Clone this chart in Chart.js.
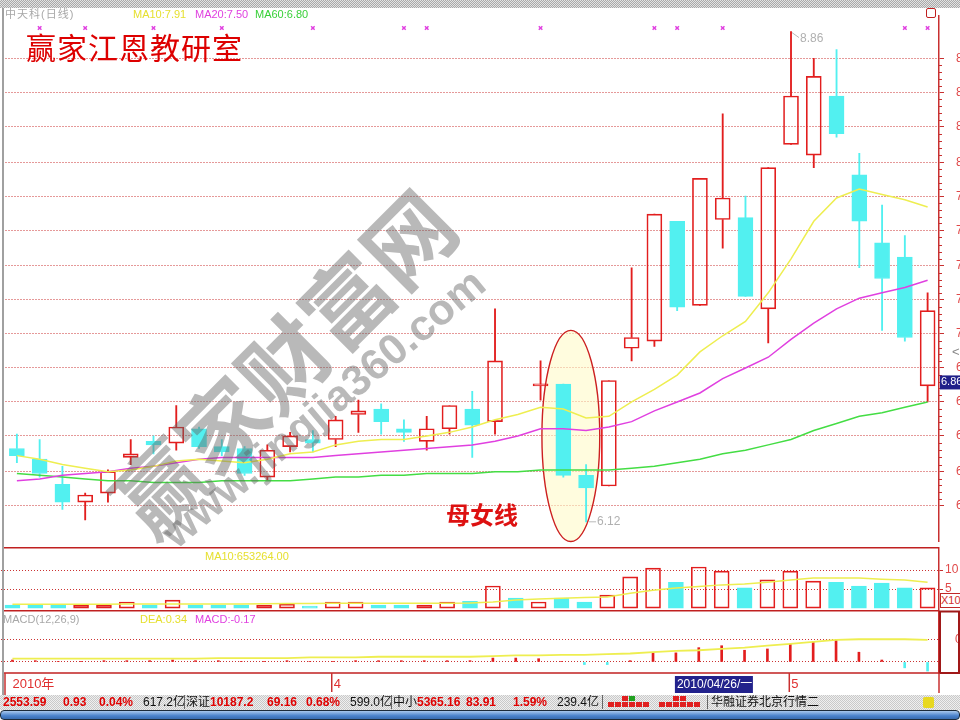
<!DOCTYPE html>
<html lang="zh-CN">
<head>
<meta charset="utf-8">
<title>中天科 日线</title>
<script src="https://cdn.jsdelivr.net/npm/chart.js@4.4.1/dist/chart.umd.min.js"></script>
<style>
  html, body { margin: 0; padding: 0; background: #fff; }
  body { position: relative; width: 960px; height: 720px; overflow: hidden;
         font-family: Arial, "Liberation Sans", "Noto Sans CJK SC", sans-serif; }
  canvas { position: absolute; left: 0; }
  .t { position: absolute; white-space: nowrap; font-size: 11px; line-height: 12px; }
  #topbar { position: absolute; left: 0; top: 0; width: 960px; height: 8px;
            background: repeating-conic-gradient(#a9a9a9 0 25%, #e2e2e2 0 50%) 0 0/2px 2px; }
  #leftline { position: absolute; left: 2px; top: 8px; width: 2px; height: 687px; background: #a0a0a0; }
  #title { position: absolute; left: 26px; top: 24px; font-size: 30px; color: #dd0000;
           font-family: "Noto Sans CJK SC", sans-serif; letter-spacing: 1px; }
  #mnx { position: absolute; left: 446px; top: 496px; font-size: 24px; color: #dd1111; font-weight: bold;
         font-family: "Noto Sans CJK SC", sans-serif; }
  .wm { position: absolute; white-space: nowrap; color: rgba(100,100,100,0.45); font-weight: bold;
        transform: translate(-50%, -50%); pointer-events: none; }
  #wm1 { left: 281px; top: 360px; font-size: 88px; font-family: "Noto Sans CJK SC", sans-serif;
         transform: translate(-50%, -50%) rotate(-45deg); }
  #wm2 { left: 323px; top: 408px; font-size: 43px; font-family: "Liberation Sans", Arial, sans-serif;
         transform: translate(-50%, -50%) rotate(-40deg); }
  #status { position: absolute; left: 0; top: 695px; width: 960px; height: 15px;
            background: repeating-conic-gradient(#c9c9c9 0 25%, #efefef 0 50%) 0 0/2px 2px; }
  #status span { position: absolute; top: 1px; font-size: 12px; line-height: 13px; white-space: nowrap; }
  .r { color: #e00000; font-weight: bold; }
  .k { color: #111; }
  .sep { width: 1px; height: 14px; background: #666; top: 0 !important; }
  .sq { width: 6px; height: 5px; background: #e02020; top: 7px !important; }
  #scroll { position: absolute; left: 0; top: 710px; width: 958px; height: 8px; border: 1px solid #1c2a3a;
            border-radius: 4px; background: linear-gradient(#a9c8ee, #4a82cc 60%, #3a6cb0); }
  #x10 { position: absolute; left: 940px; top: 593px; width: 19px; height: 13px; border: 1px solid #c02828;
         color: #d03030; font-size: 11px; line-height: 13px; overflow: hidden; white-space: nowrap; background: #fff; }
  #icon { position: absolute; left: 926px; top: 8px; width: 8px; height: 8px; border: 1.5px solid #c02020; border-radius: 2px; }
</style>
</head>
<body>
<div id="topbar"></div>
<canvas id="cMain" width="960" height="537" style="top:10px"></canvas>
<canvas id="cVol" width="960" height="63" style="top:547px"></canvas>
<canvas id="cMacd" width="960" height="85" style="top:610px"></canvas>
<div id="leftline"></div>
<div id="icon"></div>

<div class="t" style="left:5px;top:8px;color:#a8a8a8;letter-spacing:1px">中天科(日线)</div>
<div class="t" style="left:133px;top:8px;color:#e6e030">MA10:7.91</div>
<div class="t" style="left:195px;top:8px;color:#e040e0">MA20:7.50</div>
<div class="t" style="left:255px;top:8px;color:#38d038">MA60:6.80</div>
<div class="t" style="left:205px;top:550px;color:#e6e030">MA10:653264.00</div>
<div class="t" style="left:3px;top:613px;color:#a8a8a8">MACD(12,26,9)</div>
<div class="t" style="left:140px;top:613px;color:#e6e030">DEA:0.34</div>
<div class="t" style="left:195px;top:613px;color:#e040e0">MACD:-0.17</div>
<div id="x10">X10万</div>
<div class="t" style="left:952px;top:346px;color:#888;font-size:13px">&lt;</div>

<div id="title">赢家江恩教研室</div>
<div id="mnx">母女线</div>
<div class="wm" id="wm1">赢家财富网</div>
<div class="wm" id="wm2">www.jingjia360.com</div>

<div id="status">
  <span class="r" style="left:3px">2553.59</span>
  <span class="r" style="left:63px">0.93</span>
  <span class="r" style="left:99px">0.04%</span>
  <span class="k" style="left:143px">617.2亿</span>
  <span class="sep" style="left:184px"></span>
  <span class="k" style="left:186px">深证</span>
  <span class="r" style="left:210px">10187.2</span>
  <span class="r" style="left:267px">69.16</span>
  <span class="r" style="left:306px">0.68%</span>
  <span class="k" style="left:350px">599.0亿</span>
  <span class="sep" style="left:391px"></span>
  <span class="k" style="left:393px">中小</span>
  <span class="r" style="left:417px">5365.16</span>
  <span class="r" style="left:466px">83.91</span>
  <span class="r" style="left:513px">1.59%</span>
  <span class="k" style="left:557px">239.4亿</span>
  <span class="sep" style="left:602px"></span>
  <span class="sq" style="left:608px"></span><span class="sq" style="left:615px"></span><span class="sq" style="left:622px"></span>
  <span class="sq" style="left:629px"></span><span class="sq" style="left:636px"></span><span class="sq" style="left:643px"></span>
  <span class="sq" style="left:622px;top:1px !important"></span><span class="sq" style="left:629px;top:1px !important;background:#20a020"></span>
  <span class="sq" style="left:659px"></span><span class="sq" style="left:666px"></span><span class="sq" style="left:673px"></span>
  <span class="sq" style="left:680px"></span><span class="sq" style="left:687px"></span><span class="sq" style="left:694px"></span>
  <span class="sq" style="left:673px;top:1px !important"></span><span class="sq" style="left:680px;top:1px !important"></span>
  <span class="sep" style="left:707px"></span>
  <span class="k" style="left:711px">华融证券北京行情二</span>
  <span style="left:923px;top:2px;width:11px;height:11px;background:#e8d820;border-radius:2px"></span>
</div>
<div id="scroll"></div>

<script>
const dates = ['03-12','03-15','03-16','03-17','03-18','03-19','03-22','03-23','03-24','03-25','03-26','03-29','03-30','03-31',
  '04-01','04-06','04-07','04-08','04-09','04-12','04-13','04-14','04-15','04-16','04-19','04-20','04-21','04-22','04-23','04-26',
  '04-27','04-28','04-29','04-30','05-04','05-05','05-06','05-07','05-10','05-11','05-12'];

// 04-15 has volume but no readable candle in the picture -> null
const open  = [6.53,6.47,6.33,6.23,6.28,6.48,6.57,6.56,6.64,6.54,6.53,6.37,6.54,6.58,6.58,6.72,6.75,6.64,6.57,6.64,6.75,6.68,null,6.88,6.89,6.38,6.32,7.09,7.13,7.80,7.33,7.81,7.82,7.31,8.23,8.17,8.50,8.06,7.68,7.60,6.88];
const high  = [6.61,6.58,6.43,6.28,6.41,6.58,6.60,6.77,6.65,6.58,6.54,6.55,6.62,6.63,6.71,6.80,6.78,6.69,6.71,6.77,6.85,7.31,null,7.02,6.89,6.44,6.91,7.54,7.84,7.80,8.04,8.40,7.94,8.10,8.86,8.71,8.76,8.18,7.89,7.72,7.40];
const low   = [6.45,6.37,6.19,6.13,6.23,6.44,6.50,6.52,6.53,6.49,6.38,6.35,6.51,6.51,6.54,6.62,6.61,6.57,6.52,6.61,6.48,6.61,null,6.80,6.37,6.12,6.32,7.02,7.10,7.30,7.33,7.65,7.38,7.12,8.23,8.10,8.27,7.54,7.19,7.13,6.79];
const close = [6.49,6.39,6.23,6.27,6.40,6.50,6.55,6.65,6.54,6.51,6.39,6.52,6.60,6.56,6.69,6.74,6.68,6.62,6.64,6.77,6.66,7.02,null,6.89,6.38,6.31,6.91,7.15,7.84,7.32,8.04,7.93,7.38,8.10,8.50,8.61,8.29,7.80,7.48,7.15,7.30];

const ma10 = [6.49,6.47,6.44,6.42,6.40,6.41,6.43,6.46,6.47,6.46,6.45,6.47,6.50,6.51,6.55,6.57,6.58,6.58,6.60,6.62,6.65,6.69,6.72,6.76,6.75,6.70,6.71,6.79,6.86,6.94,7.07,7.16,7.24,7.40,7.59,7.80,7.93,7.98,7.95,7.92,7.88];
const ma20 = [6.35,6.36,6.38,6.39,6.40,6.42,6.43,6.45,6.47,6.48,6.48,6.48,6.48,6.48,6.49,6.50,6.51,6.52,6.53,6.54,6.55,6.57,6.60,6.64,6.64,6.63,6.65,6.68,6.74,6.79,6.84,6.92,6.98,7.04,7.14,7.23,7.31,7.37,7.40,7.43,7.47];
const ma60 = [6.39,6.38,6.37,6.36,6.35,6.35,6.34,6.34,6.34,6.35,6.35,6.35,6.35,6.36,6.37,6.37,6.38,6.38,6.39,6.39,6.39,6.40,6.40,6.41,6.41,6.41,6.41,6.42,6.43,6.45,6.47,6.50,6.52,6.55,6.58,6.63,6.67,6.71,6.73,6.76,6.79];

// volume in units of 10万; volDown marks the cyan (falling) bars
const volume = [0.8,0.8,0.8,0.8,0.8,1.6,0.8,2.1,0.8,0.8,0.8,0.8,1.05,0.5,1.6,1.6,0.8,0.8,0.8,1.6,1.8,5.8,2.6,1.6,2.6,1.6,3.4,8.2,10.5,6.8,10.8,9.7,5.3,7.4,9.7,7.1,6.8,5.8,6.6,5.3,5.3];
const volDown = [1,1,1,0,0,0,1,0,1,1,1,0,0,1,0,0,1,1,0,0,1,0,1,0,1,1,0,0,0,1,0,0,1,0,0,0,1,1,1,1,0];
const volMa10 = [1.0,1.0,1.0,1.0,1.0,1.05,1.05,1.1,1.1,1.1,1.1,1.15,1.2,1.2,1.25,1.25,1.3,1.3,1.3,1.3,1.35,1.6,2.1,2.4,2.6,2.8,2.9,3.9,4.7,5.3,5.7,6.1,6.3,6.8,7.4,7.9,7.9,7.9,7.6,7.4,6.8];

const macd = [0.03,0.02,0.01,0.01,0.02,0.02,0.02,0.03,0.02,0.02,0.01,0.01,0.02,0.01,0.01,0.02,0.02,0.02,0.02,0.02,0.02,0.06,0.06,0.05,0.01,-0.04,-0.04,0.02,0.14,0.14,0.22,0.25,0.18,0.20,0.27,0.31,0.33,0.15,0.03,-0.09,-0.14];
const dea  = [0.05,0.05,0.05,0.05,0.05,0.05,0.05,0.05,0.05,0.06,0.06,0.06,0.06,0.07,0.07,0.07,0.08,0.08,0.08,0.08,0.08,0.09,0.10,0.10,0.11,0.11,0.12,0.13,0.15,0.17,0.18,0.20,0.22,0.25,0.28,0.31,0.34,0.35,0.35,0.35,0.34];

const priceTicks = [8.71,8.52,8.33,8.13,7.94,7.75,7.55,7.36,7.17,6.98,6.79,6.60,6.40,6.21];
const volTicks = [5, 10];
const macdTicks = [0, 0.35];
const markIdx = [1,3,6,9,13,17,18,23,28,29,31,39,40];
const markLevel = 8.88;
const monthIdx = [0, 14, 34];
const monthText = ['2010年', '4', '5'];
const cursorIdx = 29, cursorDate = '2010/04/26/一', cursorPrice = 6.86;
// 母女线 highlight: centre (category index, price) and half sizes
const ellipse = { i: 24.33, p: 6.60, di: 1.27, dp: 0.59 };

const RED = '#e21e1e', CYAN = '#52f0f0', GRID = 'rgba(200,40,40,0.95)', AXIS = '#c83030';
const up = close.map((c, i) => c !== null && c >= open[i]);
const candleBorder = up.map(u => u ? RED : CYAN);
const candleFill = up.map(u => u ? 'rgba(255,255,255,0)' : CYAN);
const volBorder = volDown.map(d => d ? CYAN : RED);
const volFill = volDown.map(d => d ? CYAN : 'rgba(255,255,255,0)');
const has = i => open[i] !== null;

const axisFit = w => s => { s.width = w; s.paddingTop = 0; s.paddingBottom = 0; };
const xScale = { type: 'category', labels: dates, offset: true, display: false };
const baseOpts = {
  responsive: false, maintainAspectRatio: false, animation: false,
  layout: { padding: { left: 1, right: 0, top: 0, bottom: 0 } },
  plugins: { legend: { display: false }, tooltip: { enabled: false } },
  events: []
};

function hline(ctx, x1, y1, x2, y2) { ctx.beginPath(); ctx.moveTo(x1, y1); ctx.lineTo(x2, y2); ctx.stroke(); }

// ---------- main price panel ----------
const mainDeco = {
  id: 'mainDeco',
  beforeDatasetsDraw(chart) {
    const { ctx, scales: { x, y } } = chart;
    const cx = x.getPixelForValue(ellipse.i), cy = y.getPixelForValue(ellipse.p);
    const rx = x.getPixelForValue(ellipse.i + ellipse.di) - cx;
    const ry = cy - y.getPixelForValue(ellipse.p + ellipse.dp);
    ctx.save();
    ctx.beginPath();
    ctx.ellipse(cx, cy, rx, ry, 0, 0, Math.PI * 2);
    ctx.fillStyle = 'rgba(255,250,200,0.6)';
    ctx.fill();
    ctx.strokeStyle = '#cc2020';
    ctx.lineWidth = 1.4;
    ctx.stroke();
    ctx.restore();
  },
  afterDraw(chart) {
    const { ctx, chartArea: a, scales: { x, y } } = chart;
    ctx.save();
    // minor ticks on the price axis
    ctx.strokeStyle = AXIS; ctx.lineWidth = 1;
    for (let k = 0; k < priceTicks.length - 1; k++) {
      for (let m = 1; m < 5; m++) {
        const v = priceTicks[k] + (priceTicks[k + 1] - priceTicks[k]) * m / 5;
        const py = Math.round(y.getPixelForValue(v)) + 0.5;
        hline(ctx, a.right, py, a.right + 3, py);
      }
    }
    // highest / lowest price notes
    const hi = high.filter(v => v !== null), lo = low.filter(v => v !== null);
    const iMax = high.indexOf(Math.max(...hi));
    const iMin = low.indexOf(Math.min(...lo));
    ctx.strokeStyle = '#b8b8b8'; ctx.fillStyle = '#b0b0b0';
    ctx.font = '12px Arial'; ctx.textBaseline = 'middle';
    let px = x.getPixelForValue(iMax), py = y.getPixelForValue(high[iMax]);
    hline(ctx, px + 1, py + 1, px + 8, py + 6);
    ctx.fillText(high[iMax].toFixed(2), px + 9, py + 7);
    px = x.getPixelForValue(iMin); py = y.getPixelForValue(low[iMin]);
    hline(ctx, px + 3, py, px + 10, py);
    ctx.fillText(low[iMin].toFixed(2), px + 11, py);
    // cursor price box on the axis
    py = y.getPixelForValue(cursorPrice);
    ctx.fillStyle = '#20208a';
    ctx.fillRect(a.right + 1, py - 14, chart.width - a.right - 1, 14);
    ctx.fillStyle = '#fff'; ctx.font = '11px Arial';
    ctx.fillText(cursorPrice.toFixed(2), a.right + 2, py - 7);
    ctx.restore();
  }
};

new Chart(document.getElementById('cMain'), {
  type: 'bar',
  data: {
    labels: dates,
    datasets: [
      { type: 'line', label: 'marks', data: dates.map((d, i) => markIdx.includes(i) ? markLevel : null),
        showLine: false, pointStyle: 'crossRot', pointRadius: 2.5, borderColor: '#e040e0', borderWidth: 1.5, order: 0 },
      { type: 'line', label: 'MA10', data: ma10, borderColor: '#eeee50', borderWidth: 1.5, pointRadius: 0, order: 1 },
      { type: 'line', label: 'MA20', data: ma20, borderColor: '#e040e0', borderWidth: 1.5, pointRadius: 0, order: 1 },
      { type: 'line', label: 'MA60', data: ma60, borderColor: '#44dd44', borderWidth: 1.5, pointRadius: 0, order: 1 },
      { label: 'body', data: open.map((o, i) => has(i) ? [o, close[i]] : null), backgroundColor: candleFill, borderColor: candleBorder,
        borderWidth: 1, borderSkipped: false, barThickness: 15, grouped: false, minBarLength: 2, order: 2 },
      { label: 'upper', data: high.map((h, i) => has(i) ? [Math.max(open[i], close[i]), h] : null), backgroundColor: candleBorder,
        barThickness: 1.2, grouped: false, order: 3 },
      { label: 'lower', data: low.map((l, i) => has(i) ? [l, Math.min(open[i], close[i])] : null), backgroundColor: candleBorder,
        barThickness: 1.2, grouped: false, order: 3 }
    ]
  },
  options: {
    ...baseOpts,
    scales: {
      x: xScale,
      y: {
        position: 'right', min: 6.01, max: 8.95,
        afterBuildTicks: s => { s.ticks = priceTicks.map(v => ({ value: v })); },
        afterFit: axisFit(21),
        grid: { color: GRID, lineWidth: 1, tickLength: 5, tickColor: AXIS },
        border: { display: true, color: AXIS, width: 1.5, dash: [1, 2] },
        ticks: { color: '#e04848', padding: 12, font: { size: 12, family: 'Arial' }, autoSkip: false,
                 callback: v => v.toFixed(2) }
      }
    }
  },
  plugins: [mainDeco]
});

// ---------- volume panel ----------
const volDeco = {
  id: 'volDeco',
  afterDraw(chart) {
    const { ctx, chartArea: a } = chart;
    ctx.save();
    ctx.strokeStyle = '#c02020'; ctx.lineWidth = 1.5;
    hline(ctx, 4, 0.75, a.right, 0.75);
    ctx.restore();
  }
};

new Chart(document.getElementById('cVol'), {
  type: 'bar',
  data: {
    labels: dates,
    datasets: [
      { type: 'line', label: 'MA10', data: volMa10, borderColor: '#eeee50', borderWidth: 1.5, pointRadius: 0, order: 1 },
      { label: 'vol', data: volume, backgroundColor: volFill, borderColor: volBorder, borderWidth: 1,
        borderSkipped: false, barThickness: 15, grouped: false, order: 2 }
    ]
  },
  options: {
    ...baseOpts,
    scales: {
      x: xScale,
      y: {
        position: 'right', min: -0.5, max: 16.05,
        afterBuildTicks: s => { s.ticks = volTicks.map(v => ({ value: v })); },
        afterFit: axisFit(21),
        grid: { color: GRID, lineWidth: 1, tickLength: 4, tickColor: AXIS },
        border: { display: true, color: AXIS, width: 1.5, dash: [1, 2] },
        ticks: { color: '#e04848', padding: 2, font: { size: 12, family: 'Arial' }, autoSkip: false }
      }
    }
  },
  plugins: [volDeco]
});

// ---------- MACD panel + date strip ----------
const macdDeco = {
  id: 'macdDeco',
  afterDraw(chart) {
    const { ctx, chartArea: a, scales: { x } } = chart;
    ctx.save();
    ctx.strokeStyle = '#c02020'; ctx.lineWidth = 1.5;
    hline(ctx, 4, 0.75, a.right, 0.75);
    hline(ctx, 4, a.bottom, a.right, a.bottom);
    ctx.strokeStyle = '#a01818'; ctx.lineWidth = 2;
    ctx.strokeRect(a.right + 1, 1.5, chart.width - a.right - 2, a.bottom - 1.5);
    ctx.strokeStyle = AXIS; ctx.lineWidth = 1.5;
    hline(ctx, a.right, a.bottom, a.right, chart.height - 2);
    hline(ctx, 5, a.bottom, 5, chart.height);
    ctx.font = '13px Arial, "Noto Sans CJK SC"'; ctx.textBaseline = 'middle'; ctx.fillStyle = '#e03030';
    monthIdx.forEach((idx, k) => {
      const px = x.getPixelForValue(idx);
      if (k > 0) hline(ctx, px - 1, a.bottom, px - 1, chart.height - 3);
      ctx.fillText(monthText[k], k > 0 ? px + 1 : px, a.bottom + 11);
    });
    const cx = x.getPixelForValue(cursorIdx);
    ctx.fillStyle = '#22228c';
    ctx.fillRect(cx - 1, a.bottom + 3, 78, 17);
    ctx.fillStyle = '#fff'; ctx.font = '12px Arial, "Noto Sans CJK SC"';
    ctx.fillText(cursorDate, cx + 1, a.bottom + 12);
    ctx.restore();
  }
};

new Chart(document.getElementById('cMacd'), {
  type: 'bar',
  data: {
    labels: dates,
    datasets: [
      { type: 'line', label: 'DEA', data: dea, borderColor: '#eeee50', borderWidth: 1.8, pointRadius: 0, order: 1 },
      { label: 'MACD', data: macd, backgroundColor: macd.map(v => v >= 0 ? RED : CYAN),
        barThickness: 2, grouped: false, order: 2 }
    ]
  },
  options: {
    ...baseOpts,
    layout: { padding: { left: 1, right: 0, top: 0, bottom: 22 } },
    scales: {
      x: xScale,
      y: {
        position: 'right', min: -0.17, max: 0.8,
        afterBuildTicks: s => { s.ticks = macdTicks.map(v => ({ value: v })); },
        afterFit: axisFit(21),
        grid: { color: GRID, lineWidth: 1, drawTicks: false },
        border: { display: true, color: AXIS, width: 1.5, dash: [1, 2] },
        ticks: { color: '#e04848', padding: 16, font: { size: 12, family: 'Arial' }, autoSkip: false,
                 callback: v => v === 0 ? '' : v.toFixed(2) }
      }
    }
  },
  plugins: [macdDeco]
});
</script>
</body>
</html>
